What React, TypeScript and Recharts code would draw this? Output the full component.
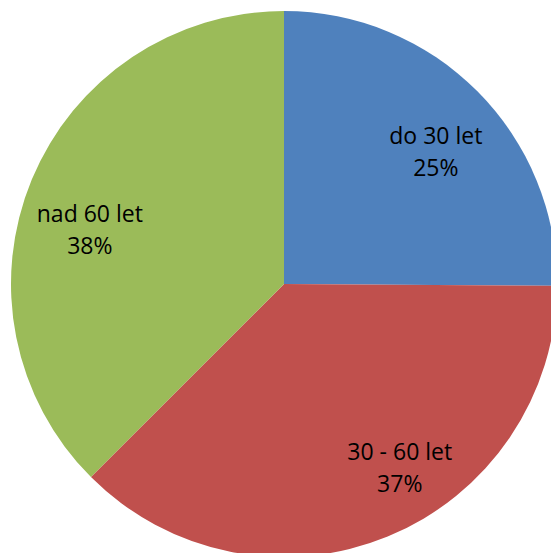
import React from 'react';
import { PieChart, Pie, Cell } from 'recharts';

const categories = ['do 30 let', '30 - 60 let', 'nad 60 let'];
const shares = [25.1, 37.4, 37.5];
const colors = ['#4F81BD', '#C0504D', '#9BBB59'];

const data = categories.map((name, i) => ({ name, value: shares[i] }));

// label placement tweaks (style, not data)
const LABEL_RADIUS_RATIO = 0.75;
const LABEL_NUDGE: [number, number][] = [
  [6.6, 11.5],
  [38, -6.6],
  [-5, 23.5],
];

const RADIAN = Math.PI / 180;

const renderLabel = (props: any) => {
  const { cx, cy, midAngle, outerRadius, index, name, percent } = props;
  const r = outerRadius * LABEL_RADIUS_RATIO;
  const [dx, dy] = LABEL_NUDGE[index] || [0, 0];
  const x = cx + r * Math.cos(-midAngle * RADIAN) + dx;
  const y = cy + r * Math.sin(-midAngle * RADIAN) + dy;
  return (
    <text
      x={x}
      y={y}
      textAnchor="middle"
      fill="#000"
      fontFamily="'Open Sans', sans-serif"
      fontSize={23}
    >
      <tspan x={x} y={y - 16} dominantBaseline="central">{name}</tspan>
      <tspan x={x} y={y + 16} dominantBaseline="central">{`${Math.round(percent * 100)}%`}</tspan>
    </text>
  );
};

export default function App() {
  return (
    <div style={{ position: 'absolute', left: 0, top: 0, width: 551, height: 553, overflow: 'hidden', background: '#fff' }}>
      <PieChart width={551} height={553} margin={{ top: 0, right: 0, bottom: 0, left: 0 }}>
        <Pie
          data={data}
          dataKey="value"
          nameKey="name"
          cx={284}
          cy={284}
          outerRadius={273}
          startAngle={90}
          endAngle={-270}
          stroke="none"
          label={renderLabel}
          labelLine={false}
          isAnimationActive={false}
        >
          {data.map((d, i) => (
            <Cell key={d.name} fill={colors[i]} />
          ))}
        </Pie>
      </PieChart>
    </div>
  );
}
